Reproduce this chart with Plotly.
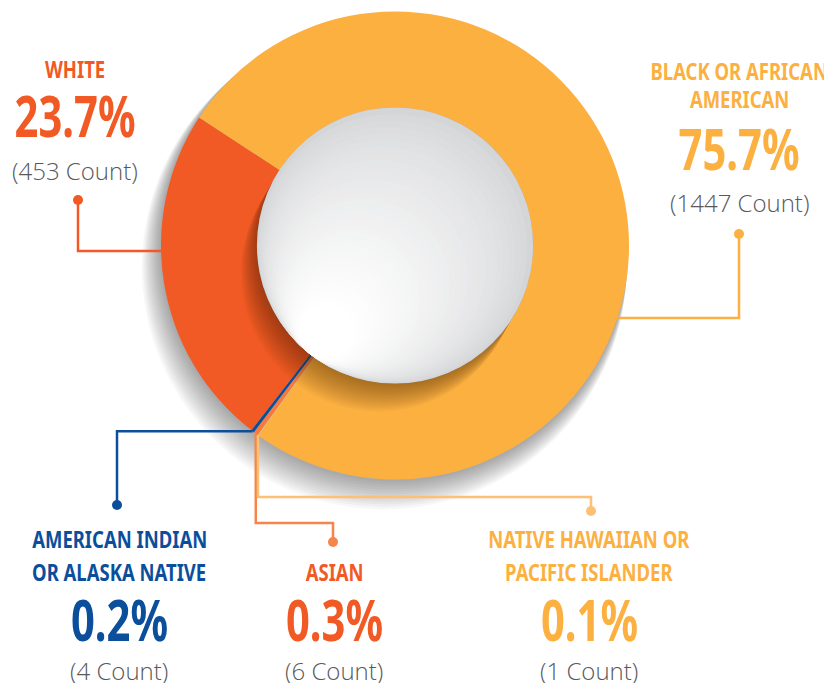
import math
import plotly.graph_objects as go

# ---- data ----
labels = [
    "White",
    "Black or African American",
    "Native Hawaiian or Pacific Islander",
    "Asian",
    "American Indian or Alaska Native",
]
counts = [453, 1447, 1, 6, 4]
pct_text = ["23.7%", "75.7%", "0.1%", "0.3%", "0.2%"]
name_lines = [
    ["WHITE"],
    ["BLACK OR AFRICAN", "AMERICAN"],
    ["NATIVE HAWAIIAN OR", "PACIFIC ISLANDER"],
    ["ASIAN"],
    ["AMERICAN INDIAN", "OR ALASKA NATIVE"],
]
count_text = [f"({c} Count)" for c in counts]

slice_colors = ["#F15A24", "#FBB040", "#FDC37A", "#F47B3E", "#0B4F9C"]
text_colors = ["#F15A24", "#FBB040", "#FBB040", "#F15A24", "#0B4F9C"]
line_colors = ["#F15A24", "#FBB040", "#FCC077", "#F58549", "#0B4F9C"]

# ---- geometry (pixels) ----
W, H = 824, 683
cx, cy, R = 395, 245.5, 234
HOLE = 0.59
r_in = R * HOLE


def px(x):
    return x / W


def py(y):
    return 1 - y / H


total = sum(counts)
# centre the White slice on the left-hand side, as in the original
rotation = 260.5 - 360 * counts[0] / total / 2


def slice_point(i, frac=0.5, radius=R):
    before = sum(counts[:i])
    a = math.radians(rotation + 360 * (before + frac * counts[i]) / total)
    return cx + radius * math.sin(a), cy - radius * math.cos(a)


def circle(x, y, rad, color, layer="above"):
    return dict(
        type="circle", xref="paper", yref="paper", layer=layer,
        x0=px(x - rad), x1=px(x + rad), y0=py(y + rad), y1=py(y - rad),
        fillcolor=color, line=dict(width=0),
    )


def path(points, color, width=2.5):
    d = "M " + " L ".join(f"{px(x)},{py(y)}" for x, y in points)
    return dict(
        type="path", xref="paper", yref="paper", layer="above", path=d,
        line=dict(color=color, width=width), fillcolor="rgba(0,0,0,0)",
    )


fig = go.Figure()
fig.add_trace(
    go.Pie(
        labels=labels,
        values=counts,
        sort=False,
        direction="clockwise",
        rotation=rotation,
        hole=HOLE,
        marker=dict(colors=slice_colors, line=dict(width=0)),
        textinfo="none",
        hoverinfo="label+value+percent",
        showlegend=False,
        domain=dict(x=[px(cx - R), px(cx + R)], y=[py(cy + R), py(cy - R)]),
    )
)

shapes = []

# soft drop shadow behind the ring
for k in range(1, 13):
    shapes.append(
        circle(cx - 0.9 * k, cy + 1.8 * k, R + 0.7 * k, "rgba(0,0,0,0.03)", layer="below")
    )

# inner shadow cast on the ring
ux, uy = -0.5, 0.87
for k in range(1, 17):
    shapes.append(circle(cx + ux * 2 * k, cy + uy * 2 * k, r_in, "rgba(70,25,0,0.03)"))

# inner disc with a light gradient (grey top-right -> white bottom-left)
N = 30
gx, gy = -0.62, 0.78
c0, c1 = (212, 213, 215), (255, 255, 255)
for k in range(N + 1):
    t = k / N
    rk = r_in * (1 - 0.8 * t)
    d = r_in - rk
    tc = t ** 0.7
    col = tuple(int(round(a + (b - a) * tc)) for a, b in zip(c0, c1))
    shapes.append(circle(cx + gx * d, cy + gy * d, rk, "rgb(%d,%d,%d)" % col))

# ---- leader lines ----
# White
wy = 251
wx = cx - math.sqrt(R**2 - (wy - cy) ** 2)
shapes.append(path([(78, 200), (78, wy), (wx, wy)], line_colors[0]))
shapes.append(circle(78, 200, 5, line_colors[0]))
# Black
by = 318
bx = cx + math.sqrt(R**2 - (by - cy) ** 2)
shapes.append(path([(739, 234), (739, by), (bx, by)], line_colors[1]))
shapes.append(circle(739, 234, 5, line_colors[1]))
# American Indian / Alaska Native
ax, ay = slice_point(4)
shapes.append(path([(117, 505), (117, ay), (ax, ay)], line_colors[4]))
shapes.append(circle(117, 505, 5, line_colors[4]))
# Asian
sx, sy = slice_point(3)
shapes.append(path([(sx, sy), (sx, 523), (333, 523), (333, 542)], line_colors[3]))
shapes.append(circle(333, 542, 5, line_colors[3]))
# Native Hawaiian / Pacific Islander
nx, ny = slice_point(2)
shapes.append(path([(nx, ny), (nx, 497), (591, 497), (591, 511)], line_colors[2]))
shapes.append(circle(591, 511, 5, line_colors[2]))

# ---- labels ----
NAME_FONT = "Noto Sans"
COUNT_FONT = "Open Sans, Lato, sans-serif"

# x centre, y of name lines, y of percentage, y of count
label_pos = [
    (75, [68.5], 115, 170),
    (739, [70.5, 99], 147.5, 202),
    (589, [538, 571], 618, 670),
    (334, [571], 618, 670),
    (119, [538, 571], 618, 670),
]

annotations = []


def add_text(x, y, text, size, color, family, weight):
    annotations.append(
        dict(
            x=px(x), y=py(y), xref="paper", yref="paper", text=text,
            showarrow=False, xanchor="center", yanchor="middle",
            font=dict(family=family, size=size, color=color, weight=weight),
        )
    )


for i in range(len(labels)):
    x, name_ys, pct_y, cnt_y = label_pos[i]
    for line, yy in zip(name_lines[i], name_ys):
        add_text(x, yy, line, 24, text_colors[i], NAME_FONT, "bold")
    add_text(x, pct_y, pct_text[i], 58, text_colors[i], NAME_FONT, "bold")
    add_text(x, cnt_y, count_text[i], 24, "#58595B", COUNT_FONT, 300)

fig.update_layout(
    width=W,
    height=H,
    margin=dict(l=0, r=0, t=0, b=0),
    paper_bgcolor="white",
    plot_bgcolor="white",
    shapes=shapes,
    annotations=annotations,
)

# no condensed face is installed, so squeeze the bold labels horizontally
post = """
document.body.style.margin = '0';
var gd = document.getElementById('{plot_id}');
gd.querySelectorAll('text.annotation-text').forEach(function (t) {
  var ff = t.style.fontFamily || '';
  if (ff.indexOf('Noto Sans') < 0) return;
  var fs = parseFloat(t.style.fontSize) || 0;
  var s = fs > 40 ? 0.72 : 0.77;
  var b = t.getBBox();
  var c = b.x + b.width / 2;
  t.setAttribute('transform',
    'translate(' + c + ',0) scale(' + s + ',1) translate(' + (-c) + ',0)');
});
"""

fig.write_html("out.html", post_script=post, config={"displayModeBar": False})
